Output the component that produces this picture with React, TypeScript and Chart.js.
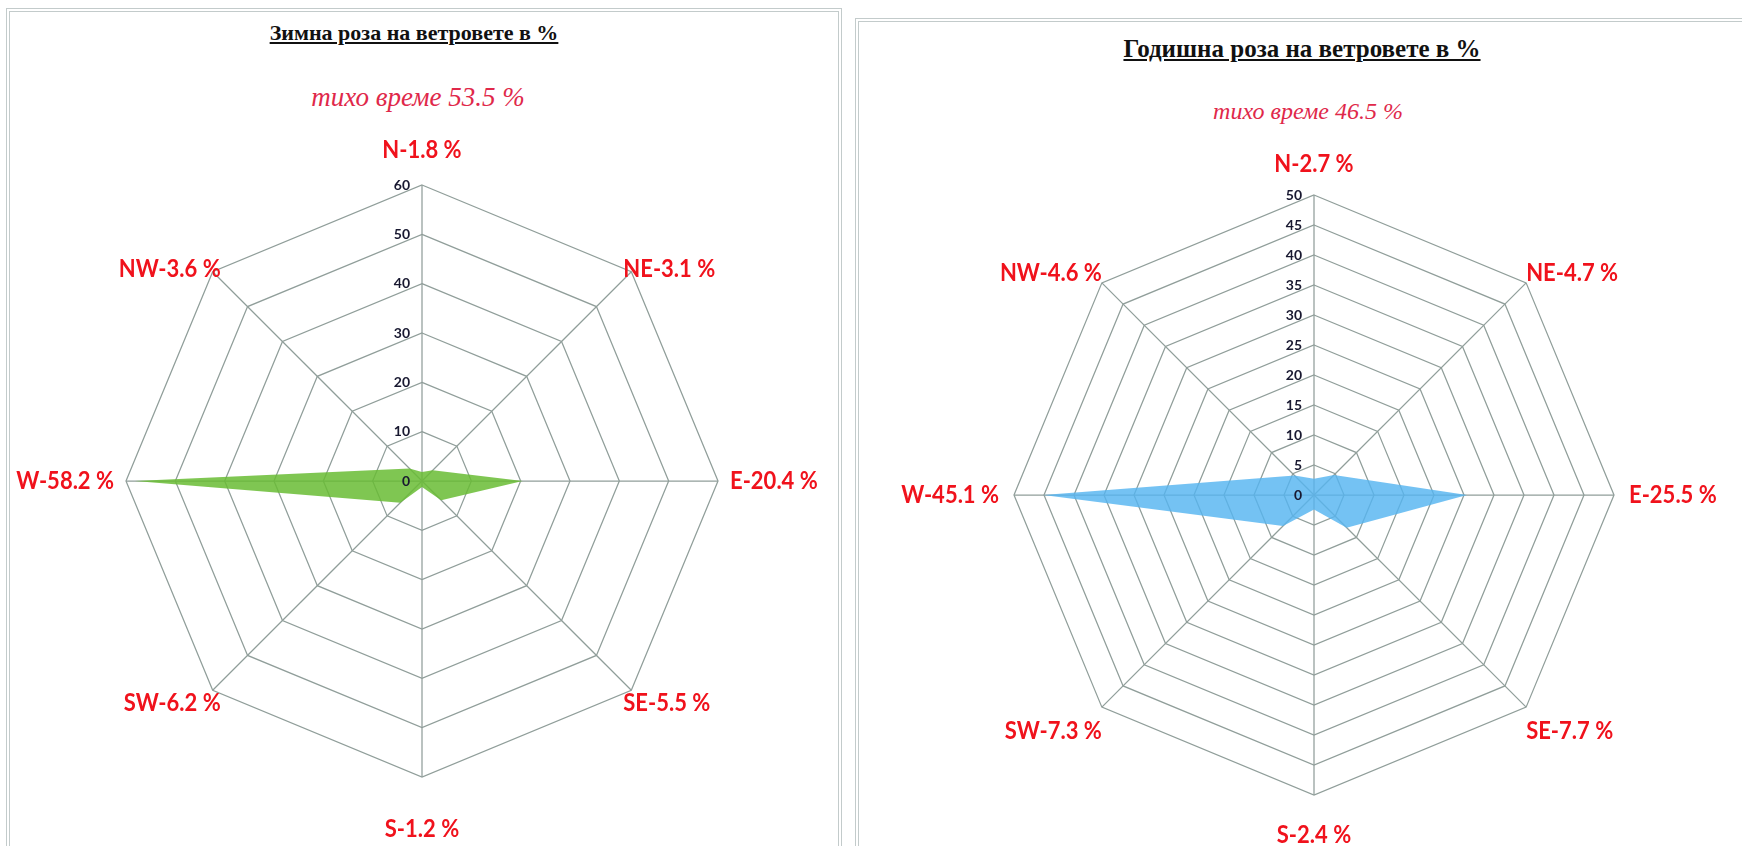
import React, { useEffect, useRef } from "react";
import { Chart, registerables } from "chart.js";

Chart.register(...registerables);

// ---------- data ----------
const directions = ["N", "NE", "E", "SE", "S", "SW", "W", "NW"];
const winterValues = [1.8, 3.1, 20.4, 5.5, 1.2, 6.2, 58.2, 3.6];
const annualValues = [2.7, 4.7, 25.5, 7.7, 2.4, 7.3, 45.1, 4.6];
const winterTicks = [0, 10, 20, 30, 40, 50, 60];
const annualTicks = [0, 5, 10, 15, 20, 25, 30, 35, 40, 45, 50];
const winterTitle = "Зимна роза на ветровете в %";
const winterCalm = "тихо време 53.5 %";
const annualTitle = "Годишна роза на ветровете в %";
const annualCalm = "тихо време 46.5 %";

type Pad = { left: number; right: number; top: number; bottom: number };
type RoseProps = {
  values: number[];
  tickValues: number[];
  color: string;
  left: number;
  top: number;
  width: number;
  height: number;
  pad: Pad;
  nDist: number;
  sDist: number;
  hDist: number;
  diagDx: number;
  topDy: number;
  botDy: number;
};

function Rose(p: RoseProps) {
  const ref = useRef<HTMLCanvasElement>(null);
  useEffect(() => {
    if (!ref.current) return;
    const labels = directions.map((d, i) => `${d}-${p.values[i]} %`);
    const place = [
      { d: p.nDist, dx: 0, dy: 0, align: "center" },
      { d: 0, dx: -p.diagDx, dy: p.topDy, align: "left" },
      { d: p.hDist, dx: 0, dy: 0, align: "left" },
      { d: 0, dx: -p.diagDx, dy: p.botDy, align: "left" },
      { d: p.sDist, dx: 0, dy: 0, align: "center" },
      { d: 0, dx: p.diagDx, dy: p.botDy, align: "right" },
      { d: p.hDist, dx: 0, dy: 0, align: "right" },
      { d: 0, dx: p.diagDx, dy: p.topDy, align: "right" },
    ];
    const labelPlugin = {
      id: "roseLabels",
      afterDatasetsDraw(chart: any) {
        const s = chart.scales.r;
        const ctx = chart.ctx as CanvasRenderingContext2D;
        ctx.save();
        ctx.font = "bold 14px Lato";
        ctx.fillStyle = "#181830";
        ctx.textAlign = "right";
        ctx.textBaseline = "middle";
        p.tickValues.forEach((v) => {
          const dist = s.getDistanceFromCenterForValue(v);
          ctx.fillText(String(v), s.xCenter - 12, s.yCenter - dist);
        });
        ctx.font = "bold 22px Lato";
        ctx.fillStyle = "#f0121c";
        const R = s.drawingArea;
        labels.forEach((t, i) => {
          const pl = place[i];
          const pos = s.getPointPosition(i, R + pl.d);
          ctx.save();
          ctx.translate(pos.x + pl.dx, pos.y + pl.dy);
          ctx.scale(1, 1.12);
          ctx.textAlign = pl.align as CanvasTextAlign;
          ctx.fillText(t, 0, 0);
          ctx.restore();
        });
        ctx.restore();
      },
    };
    const max = p.tickValues[p.tickValues.length - 1];
    const step = p.tickValues[1] - p.tickValues[0];
    const chart = new Chart(ref.current, {
      type: "radar",
      data: {
        labels: directions,
        datasets: [
          {
            data: p.values,
            fill: true,
            backgroundColor: p.color,
            borderColor: p.color,
            borderWidth: 0,
            pointRadius: 0,
            tension: 0,
          },
        ],
      },
      options: {
        responsive: false,
        animation: false,
        layout: { padding: p.pad },
        plugins: {
          legend: { display: false },
          tooltip: { enabled: false },
        },
        scales: {
          r: {
            min: 0,
            max: max,
            ticks: { display: false, stepSize: step },
            afterBuildTicks: (scale: any) => {
              scale.ticks = p.tickValues.map((v) => ({ value: v }));
            },
            grid: { color: "#909e9a", lineWidth: 1.25 },
            angleLines: { color: "#909e9a", lineWidth: 1.25 },
            pointLabels: { display: false },
          },
        },
      } as any,
      plugins: [labelPlugin],
    });
    return () => chart.destroy();
  }, []);
  return (
    <canvas
      ref={ref}
      width={p.width}
      height={p.height}
      style={{ position: "absolute", left: p.left, top: p.top, width: p.width, height: p.height }}
    />
  );
}

const titleStyle: React.CSSProperties = {
  position: "absolute",
  width: 600,
  textAlign: "center",
  fontFamily: "'Liberation Serif', serif",
  fontWeight: "bold",
  color: "#111",
  textDecoration: "underline",
  lineHeight: "30px",
  whiteSpace: "nowrap",
};
const calmStyle: React.CSSProperties = {
  position: "absolute",
  width: 600,
  textAlign: "center",
  fontFamily: "'Liberation Serif', serif",
  fontStyle: "italic",
  color: "#e0284a",
  lineHeight: "30px",
  whiteSpace: "nowrap",
};
const panelStyle: React.CSSProperties = {
  position: "absolute",
  border: "4px double #c3cbcb",
  boxSizing: "border-box",
  background: "#fff",
};

export default function App() {
  return (
    <div
      style={{
        position: "absolute",
        left: 0,
        top: 0,
        width: 1742,
        height: 846,
        overflow: "hidden",
        background: "#fff",
      }}
    >
      <div style={{ ...panelStyle, left: 6, top: 8, width: 836, height: 900 }} />
      <div style={{ ...panelStyle, left: 855, top: 18, width: 920, height: 900 }} />

      <div style={{ ...titleStyle, fontSize: 22, left: 414 - 300, top: 18 }}>{winterTitle}</div>
      <div style={{ ...calmStyle, fontSize: 27, left: 418 - 300, top: 82 }}>{winterCalm}</div>
      <div style={{ ...titleStyle, fontSize: 25, left: 1302 - 300, top: 34 }}>{annualTitle}</div>
      <div style={{ ...calmStyle, fontSize: 24, left: 1308 - 300, top: 96 }}>{annualCalm}</div>

      <Rose
        values={winterValues}
        tickValues={winterTicks}
        color="rgba(105,188,52,0.85)"
        left={12}
        top={110}
        width={830}
        height={736}
        pad={{ left: 114, right: 124, top: 75, bottom: 69 }}
        nDist={35}
        sDist={52}
        hDist={12}
        diagDx={8}
        topDy={-3}
        botDy={13}
      />
      <Rose
        values={annualValues}
        tickValues={annualTicks}
        color="rgba(85,180,240,0.82)"
        left={865}
        top={110}
        width={877}
        height={736}
        pad={{ left: 149, right: 128, top: 85, bottom: 51 }}
        nDist={31}
        sDist={40}
        hDist={15}
        diagDx={0}
        topDy={-10}
        botDy={24}
      />
    </div>
  );
}
